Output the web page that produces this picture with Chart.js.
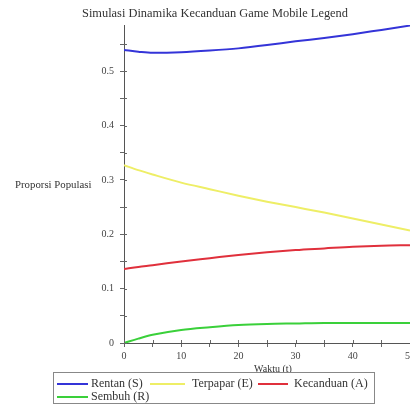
<!DOCTYPE html>
<html>
<head>
<meta charset="utf-8">
<script src="https://cdn.jsdelivr.net/npm/chart.js@4/dist/chart.umd.min.js"></script>
<style>
html,body{margin:0;padding:0;background:#fff;}
#wrap{width:410px;height:406px;position:relative;}
</style>
</head>
<body>
<div id="wrap"><canvas id="c"></canvas></div>
<script>
const chartTitle = "Simulasi Dinamika Kecanduan Game Mobile Legend";
const xTitle = "Waktu (t)";
const yTitle = "Proporsi Populasi";
const timePoints = [0, 2.5, 5, 10, 15, 20, 25, 30, 35, 40, 45, 50];
const rentanS    = [0.539, 0.536, 0.534, 0.535, 0.538, 0.542, 0.548, 0.555, 0.561, 0.568, 0.576, 0.584];
const terpaparE  = [0.327, 0.318, 0.310, 0.295, 0.283, 0.271, 0.260, 0.250, 0.240, 0.229, 0.218, 0.207];
const kecanduanA = [0.136, 0.140, 0.143, 0.150, 0.156, 0.162, 0.167, 0.171, 0.174, 0.177, 0.179, 0.180];
const sembuhR    = [0.000, 0.008, 0.015, 0.024, 0.029, 0.033, 0.035, 0.036, 0.037, 0.037, 0.037, 0.037];
const seriesLabels = ["Rentan (S)", "Terpapar (E)", "Kecanduan (A)", "Sembuh (R)"];
const seriesColors = ["#3434d8", "#eeee66", "#e0303c", "#3ad03a"];

const serif = "'Liberation Serif', 'DejaVu Serif', serif";
function pts(arr){ return timePoints.map((t,i)=>({x:t,y:arr[i]})); }
const allSeries = [rentanS, terpaparE, kecanduanA, sembuhR];

const datasets = allSeries.map((arr,i)=>({
  label: seriesLabels[i],
  data: pts(arr),
  borderColor: seriesColors[i],
  backgroundColor: seriesColors[i],
  borderWidth: 2,
  pointRadius: 0,
  tension: 0.4,
  cubicInterpolationMode: 'monotone',
  fill: false
}));

const decor = {
  id: 'decor',
  afterDraw(chart){
    const ctx = chart.ctx;
    const ca = chart.chartArea;
    ctx.save();
    ctx.strokeStyle = '#666';
    ctx.lineWidth = 1;
    const ys = chart.scales.y, xs = chart.scales.x;
    ys.ticks.forEach(t=>{
      const p = Math.round(ys.getPixelForValue(t.value))+0.5;
      ctx.beginPath(); ctx.moveTo(ca.left, p); ctx.lineTo(ca.left+3, p); ctx.stroke();
    });
    xs.ticks.forEach(t=>{
      const p = Math.round(xs.getPixelForValue(t.value))+0.5;
      ctx.beginPath(); ctx.moveTo(p, ca.bottom); ctx.lineTo(p, ca.bottom-3); ctx.stroke();
    });
    ctx.fillStyle = '#333';
    ctx.textAlign = 'center';
    ctx.textBaseline = 'middle';
    ctx.font = "12.4px " + serif;
    ctx.fillText(chartTitle, 215, 14);
    ctx.font = "10.8px " + serif;
    ctx.textAlign = 'left';
    ctx.fillText(yTitle, 15, 185);
    ctx.font = "10px " + serif;
    ctx.textAlign = 'center';
    ctx.fillText(xTitle, 273, 369);
    const bx = 53.5, by = 372.5, bw = 321, bh = 31;
    ctx.fillStyle = '#fff';
    ctx.fillRect(bx, by, bw, bh);
    ctx.strokeStyle = '#888';
    ctx.lineWidth = 1;
    ctx.strokeRect(bx, by, bw, bh);
    const items = [
      {lx:57, lw:31, tx:91, ty:384},
      {lx:150, lw:35, tx:192, ty:384},
      {lx:258, lw:30, tx:294, ty:384},
      {lx:57, lw:31, tx:91, ty:397}
    ];
    ctx.font = "12px " + serif;
    ctx.textAlign = 'left';
    chart.data.datasets.forEach((ds,i)=>{
      const it = items[i];
      ctx.strokeStyle = ds.borderColor;
      ctx.lineWidth = 2;
      ctx.beginPath(); ctx.moveTo(it.lx, it.ty); ctx.lineTo(it.lx+it.lw, it.ty); ctx.stroke();
      ctx.fillStyle = '#333';
      ctx.fillText(ds.label, it.tx, it.ty);
    });
    ctx.restore();
  }
};

new Chart(document.getElementById('c'), {
  type: 'line',
  data: { datasets },
  options: {
    responsive: true,
    maintainAspectRatio: false,
    animation: false,
    devicePixelRatio: 1,
    layout: { padding: { top: 25, left: 0, right: 0, bottom: 0 } },
    plugins: { legend: { display: false }, title: { display: false }, tooltip: { enabled: false } },
    scales: {
      x: {
        type: 'linear', min: 0, max: 50,
        afterFit(s){ s.height = 63; s.paddingRight = 0; s.paddingLeft = 0; },
        grid: { drawOnChartArea: false, drawTicks: true, tickLength: 4, color: '#666' },
        border: { color: '#555', width: 1 },
        ticks: {
          stepSize: 5, padding: 3, color: '#444', maxRotation: 0, autoSkip: false,
          font: { family: serif, size: 10 },
          callback: v => (Math.round(v) % 10 === 0 ? String(v) : '')
        }
      },
      y: {
        type: 'linear', min: 0, max: 0.585,
        afterFit(s){ s.width = 124; s.paddingTop = 0; s.paddingBottom = 0; },
        grid: { drawOnChartArea: false, drawTicks: true, tickLength: 4, color: '#666' },
        border: { color: '#555', width: 1 },
        ticks: {
          stepSize: 0.05, includeBounds: false, padding: 6, color: '#444', autoSkip: false,
          font: { family: serif, size: 10 },
          callback: v => { const k = Math.round(v*100); return k % 10 === 0 ? String(k/100) : ''; }
        }
      }
    }
  },
  plugins: [decor]
});
</script>
</body>
</html>
